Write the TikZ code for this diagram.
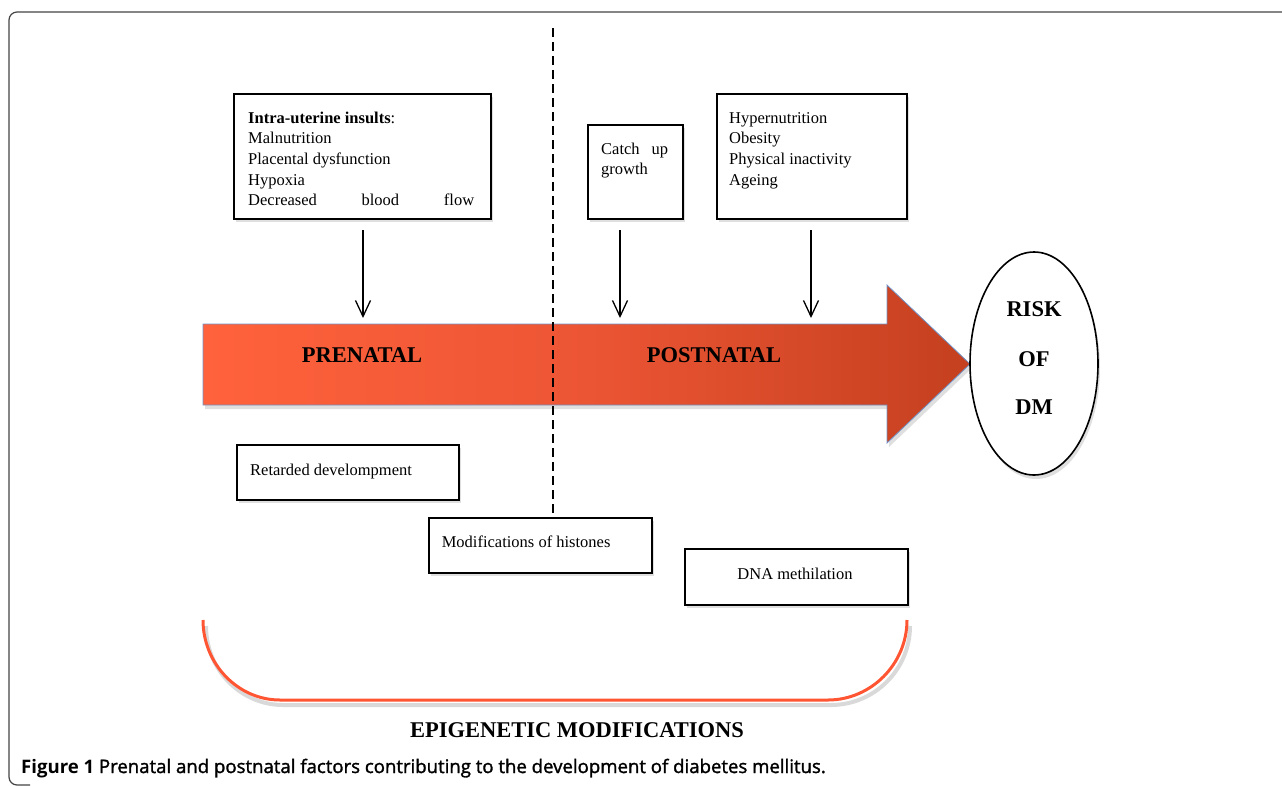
\documentclass[tikz,border=0pt]{standalone}
\usepackage{fontspec}
\setmainfont{Liberation Serif}
\newfontfamily\capfont{Open Sans}
\newfontfamily\capsemi{Open Sans}[FakeBold=1.6]
\usetikzlibrary{shapes.geometric,shadows,arrows.meta}
\definecolor{arrL}{HTML}{FF623C}
\definecolor{arrM}{HTML}{EC5534}
\definecolor{arrR}{HTML}{C4401F}
\definecolor{arrEdge}{HTML}{7094C8}
\definecolor{brk}{HTML}{FF5533}
\definecolor{frame}{HTML}{444444}
\begin{document}
\begin{tikzpicture}[x=1pt,y=-1pt,
  box/.style={draw=black, fill=white, line width=1.6pt, inner sep=0pt,
    drop shadow={opacity=0.25, shadow xshift=2pt, shadow yshift=-3pt}},
  bodytext/.style={font=\fontsize{16.5}{20.6}\selectfont, inner sep=0pt, anchor=base west},
  captext/.style={font=\bfseries\fontsize{22.5}{26}\selectfont, inner sep=0pt, anchor=base},
  farrow/.style={line width=1.3pt, -{Straight Barb[length=16pt,width=15pt,line width=1.3pt]}},
  dashline/.style={line width=2pt, dash pattern=on 9pt off 5pt},
  brace/.style={draw=brk, line width=3pt},
  braceshadow/.style={draw=black, opacity=0.15, line width=4pt}
]
\useasboundingbox (0,0) rectangle (1282,785);
% frame
\draw[frame, line width=1.2pt, rounded corners=8pt] (1300,12) -- (9,12) -- (9,785) -- (30,785);

% top boxes
\node[box, minimum width=257pt, minimum height=125pt, anchor=north west] (insults) at (233,93) {};
\node[bodytext] (insultstext) at (248,123.3) {\begin{tabular}[t]{@{}l@{}}\textbf{Intra-uterine insults}:\\ Malnutrition\\ Placental dysfunction\\ Hypoxia\\ \hbox to 226pt{Decreased\hfill blood\hfill flow}\end{tabular}};

\node[box, minimum width=95pt, minimum height=94pt, anchor=north west] (catch) at (587,124) {};
\node[bodytext] (catchtext) at (601,154) {\begin{tabular}[t]{@{}l@{}}\hbox to 67pt{Catch\hfill up}\\ growth\end{tabular}};

\node[box, minimum width=190pt, minimum height=125pt, anchor=north west] (hyper) at (716,93) {};
\node[bodytext] (hypertext) at (729,123.3) {\begin{tabular}[t]{@{}l@{}}Hypernutrition\\ Obesity\\ Physical inactivity\\ Ageing\end{tabular}};

% down arrows
\coordinate (a1s) at (363,230); \coordinate (a1e) at (363,318);
\coordinate (a2s) at (620,230); \coordinate (a2e) at (620,318);
\coordinate (a3s) at (811,230); \coordinate (a3e) at (811,318);
\draw[farrow] (a1s) -- (a1e);
\draw[farrow] (a2s) -- (a2e);
\draw[farrow] (a3s) -- (a3e);

% big arrow
\path[draw=arrEdge, line width=0.8pt, left color=arrL, right color=arrR, middle color=arrM,
  drop shadow={opacity=0.25, shadow xshift=2pt, shadow yshift=-4pt}]
  (203,324) -- (887,324) -- (887,285) -- (970,364) -- (887,443) -- (887,405) -- (203,405) -- cycle;
\node[captext] (prenatal) at (362,362.7) {PRENATAL};
\node[captext] (postnatal) at (714,362.7) {POSTNATAL};

% ellipse
\node[draw=black, fill=white, line width=1.6pt, ellipse, minimum width=128pt, minimum height=223pt,
  drop shadow={opacity=0.25, shadow xshift=2pt, shadow yshift=-4pt}] (risk) at (1034,363.5) {};
\node[captext] (risk1) at (1034,316.7) {RISK};
\node[captext] (risk2) at (1034,366) {OF};
\node[captext] (risk3) at (1034,414.7) {DM};

% bottom boxes
\node[box, minimum width=222pt, minimum height=55pt, anchor=north west] (retarded) at (236,444) {};
\node[bodytext] (retardedtext) at (250,475.7) {Retarded develompment};
\node[box, minimum width=223pt, minimum height=55pt, anchor=north west] (histones) at (428,517) {};
\node[bodytext] (histonestext) at (441.6,547.3) {Modifications of histones};
\node[box, minimum width=223pt, minimum height=56pt, anchor=north west] (dna) at (684,548) {};
\node[bodytext, anchor=base] (dnatext) at (795,579) {DNA methilation};

% dashed divider
\coordinate (dtop) at (553,28);
\draw[dashline] (dtop) -- (dtop |- histones.north);

% bracket
\coordinate (bl) at (203,620); \coordinate (br) at (907,620);
\path[braceshadow] (206,626) .. controls (206,670) and (241,705) .. (283,705) -- (831,705) .. controls (874,705) and (910,670) .. (910,626);
\path[brace] (bl) .. controls (203,664) and (238,700) .. (280,700) -- (828,700) .. controls (871,700) and (907,664) .. (br);
\node[captext] (epi) at (577,737.7) {EPIGENETIC MODIFICATIONS};

% caption
\node[anchor=base west, inner sep=0pt, font=\fontsize{18.6}{22}\selectfont] (caption) at (21,773)
  {{\capfont\bfseries Figure 1} {\capsemi Prenatal and postnatal factors contributing to the development of diabetes mellitus.}};
\end{tikzpicture}
\end{document}
